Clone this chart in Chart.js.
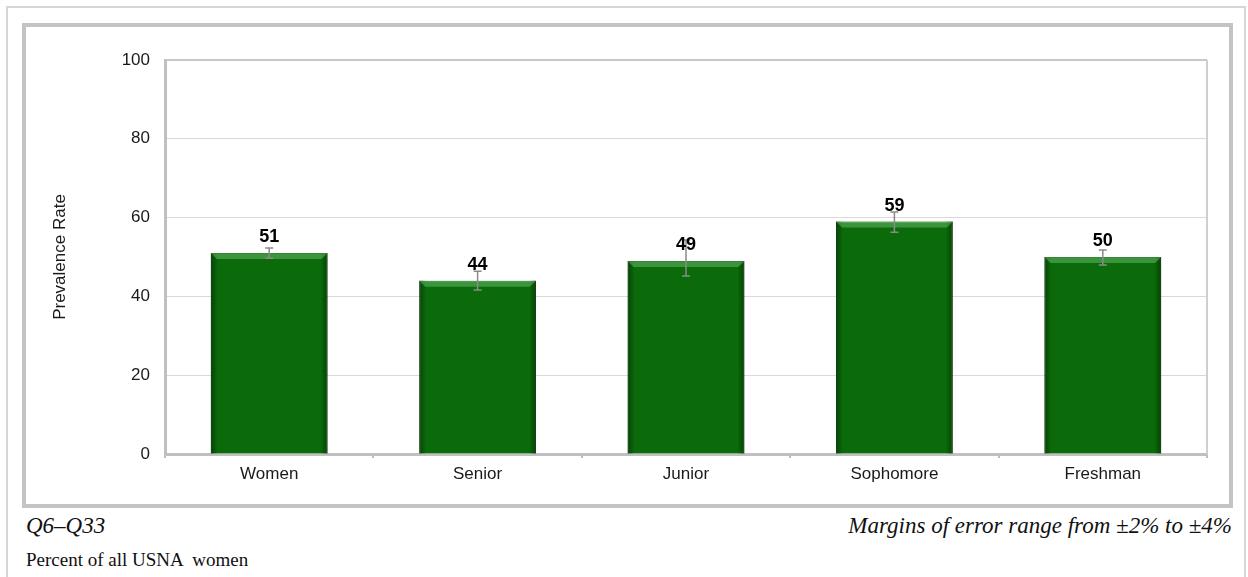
<!DOCTYPE html>
<html lang="en">

<head>
    <meta charset="UTF-8">
    <title>Prevalence rate by class</title>
    <script src="https://cdn.jsdelivr.net/npm/chart.js@4.4.1/dist/chart.umd.min.js"></script>
    <style>
        body { margin: 0; background: #fff; width: 1248px; height: 577px; overflow: hidden; position: relative; }
        #outer { position: absolute; left: 6px; top: 6px; width: 1236px; height: 600px; border: 2px solid #d6d6d6; }
        #inner { position: absolute; left: 22px; top: 23px; width: 1203px; height: 477px; border: 4px solid #c4c4c4; }
        #wrap { position: absolute; left: 26px; top: 27px; width: 1203px; height: 477px; }
        .note { position: absolute; font-family: "Liberation Serif", "Times New Roman", serif; color: #111; white-space: pre; }
    </style>
</head>

<body>
    <div id="outer"></div>
    <div id="inner"></div>
    <div id="wrap"><canvas id="myChart"></canvas></div>
    <div class="note" style="left:26px; top:514px; font-size:23px; line-height:23px; font-style:italic;">Q6–Q33</div>
    <div class="note" style="left:26px; top:550px; font-size:19px; line-height:19px;">Percent of all USNA  women</div>
    <div class="note" style="right:16px; top:514px; font-size:23px; line-height:23px; font-style:italic;">Margins of error range from ±2% to ±4%</div>

    <script>
        // Groups and prevalence rates
        var labels = ["Women", "Senior", "Junior", "Sophomore", "Freshman"];
        var rates = [51, 44, 49, 59, 50];

        // Error bar ends
        var errLow = [49.7, 41.6, 45.2, 56.3, 48];
        var errHigh = [52.3, 46.4, 54.3, 61.4, 51.8];

        var yTicks = [0, 20, 40, 60, 80, 100];

        // Bevel on each bar, drawn from the bar elements
        var bevelPlugin = {
            id: "bevel",
            afterDatasetsDraw: function (chart) {
                var ctx = chart.ctx;
                chart.getDatasetMeta(0).data.forEach(function (bar) {
                    var l = bar.x - bar.width / 2, r = bar.x + bar.width / 2;
                    var t = bar.y, b = bar.base, e = 6;
                    ctx.save();
                    var g = ctx.createLinearGradient(l, 0, r, 0);
                    g.addColorStop(0, "rgba(0,40,0,0.6)");
                    g.addColorStop(0.06, "rgba(0,40,0,0.0)");
                    g.addColorStop(0.94, "rgba(0,40,0,0.0)");
                    g.addColorStop(1, "rgba(0,40,0,0.6)");
                    ctx.fillStyle = g;
                    ctx.fillRect(l, t, r - l, b - t);
                    // lighter top bevel
                    ctx.beginPath();
                    ctx.moveTo(l, t);
                    ctx.lineTo(r, t);
                    ctx.lineTo(r - e, t + e);
                    ctx.lineTo(l + e, t + e);
                    ctx.closePath();
                    ctx.fillStyle = "rgba(120,200,120,0.45)";
                    ctx.fill();
                    ctx.restore();
                });
            }
        };

        // Error bars from errLow / errHigh
        var errorBarPlugin = {
            id: "errorBars",
            afterDatasetsDraw: function (chart) {
                var ctx = chart.ctx;
                var yScale = chart.scales.y;
                ctx.save();
                ctx.strokeStyle = "#8a8a8a";
                ctx.lineWidth = 1.5;
                chart.getDatasetMeta(0).data.forEach(function (bar, i) {
                    var yl = yScale.getPixelForValue(errLow[i]);
                    var yh = yScale.getPixelForValue(errHigh[i]);
                    ctx.beginPath();
                    ctx.moveTo(bar.x, yl);
                    ctx.lineTo(bar.x, yh);
                    ctx.moveTo(bar.x - 4, yl);
                    ctx.lineTo(bar.x + 4, yl);
                    ctx.moveTo(bar.x - 4, yh);
                    ctx.lineTo(bar.x + 4, yh);
                    ctx.stroke();
                });
                ctx.restore();
            }
        };

        // Value labels above the bars
        var valueLabelPlugin = {
            id: "valueLabels",
            afterDraw: function (chart) {
                var ctx = chart.ctx;
                ctx.save();
                ctx.font = "bold 18px 'Liberation Sans', Arial, sans-serif";
                ctx.fillStyle = "#000";
                ctx.textAlign = "center";
                ctx.textBaseline = "alphabetic";
                chart.getDatasetMeta(0).data.forEach(function (bar, i) {
                    ctx.fillText(String(rates[i]), bar.x, bar.y - 11);
                });
                ctx.restore();
            }
        };

        // Right edge of the plot area
        var frameEdgePlugin = {
            id: "frameEdge",
            beforeDatasetsDraw: function (chart) {
                var a = chart.chartArea, ctx = chart.ctx;
                ctx.save();
                ctx.strokeStyle = "#cfcfcf";
                ctx.lineWidth = 2;
                ctx.beginPath();
                ctx.moveTo(a.right, a.top);
                ctx.lineTo(a.right, a.bottom);
                ctx.stroke();
                ctx.restore();
            }
        };

        var chart = new Chart(document.getElementById("myChart"), {
            type: "bar",
            data: {
                labels: labels,
                datasets: [{
                    label: "Prevalence Rate",
                    data: rates,
                    backgroundColor: "#0b6b0b",
                    borderColor: "#0a4f0a",
                    borderWidth: 1,
                    categoryPercentage: 1,
                    barPercentage: 0.56
                }]
            },
            options: {
                responsive: true,
                maintainAspectRatio: false,
                animation: false,
                layout: { padding: { top: 33, right: 22, left: 0, bottom: 0 } },
                plugins: {
                    legend: { display: false },
                    tooltip: { enabled: false }
                },
                scales: {
                    x: {
                        afterFit: function (scale) { scale.height = 50; },
                        grid: { display: true, drawOnChartArea: false, tickLength: 4, color: "#bdbdbd", lineWidth: 2 },
                        border: { display: true, color: "#c0c0c0", width: 3 },
                        ticks: {
                            padding: 6,
                            color: "#1a1a1a",
                            font: { family: "'Liberation Sans', Arial, sans-serif", size: 17 }
                        }
                    },
                    y: {
                        min: 0,
                        max: 100,
                        afterFit: function (scale) { scale.width = 139; },
                        afterBuildTicks: function (scale) {
                            scale.ticks = yTicks.map(function (v) { return { value: v }; });
                        },
                        grid: {
                            drawTicks: false,
                            color: function (c) { return c.tick && c.tick.value === 100 ? "#c8c8c8" : "#d9d9d9"; },
                            lineWidth: function (c) { return c.tick && c.tick.value === 100 ? 2 : 1; }
                        },
                        border: { display: true, color: "#c0c0c0", width: 3 },
                        ticks: {
                            padding: 15,
                            color: "#1a1a1a",
                            font: { family: "'Liberation Sans', Arial, sans-serif", size: 17 }
                        },
                        title: {
                            display: true,
                            text: "Prevalence Rate",
                            color: "#1a1a1a",
                            padding: { top: 24, bottom: 0 },
                            font: { family: "'Liberation Sans', Arial, sans-serif", size: 17 }
                        }
                    }
                }
            },
            plugins: [frameEdgePlugin, bevelPlugin, errorBarPlugin, valueLabelPlugin]
        });
    </script>
</body>

</html>
